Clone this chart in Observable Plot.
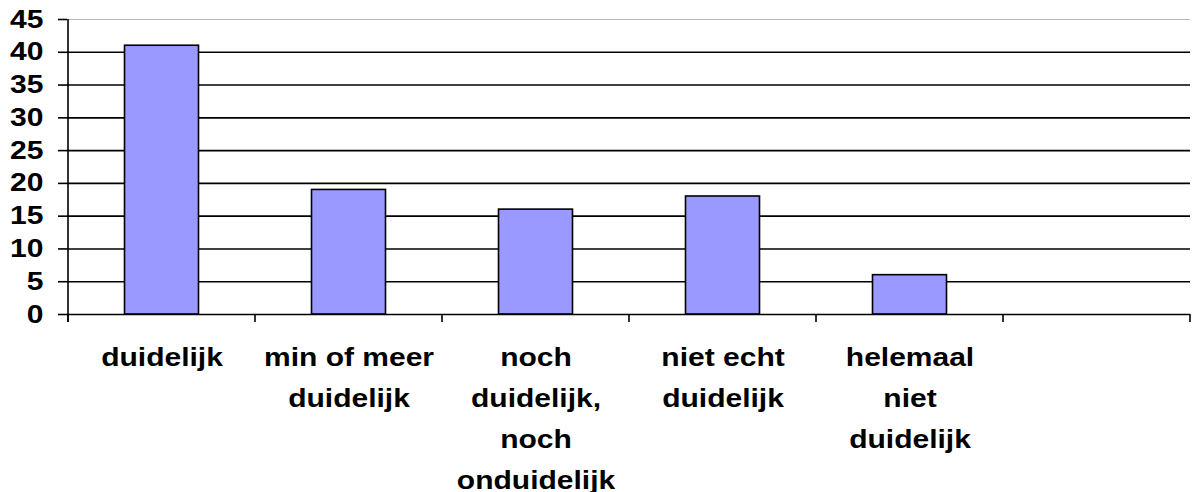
<!DOCTYPE html>
<html>
<head>
<meta charset="utf-8">
<script src="https://cdn.jsdelivr.net/npm/d3@7"></script>
<script src="https://cdn.jsdelivr.net/npm/@observablehq/plot@0.6"></script>
<style>
  html, body { margin: 0; padding: 0; background: #ffffff; }
</style>
</head>
<body>
<div id="chart"></div>
<script>
// Answer categories (the last slot is an empty placeholder band)
const categories = [
  "duidelijk",
  "min of meer duidelijk",
  "noch duidelijk, noch onduidelijk",
  "niet echt duidelijk",
  "helemaal niet duidelijk",
  "(leeg)"
];

// Displayed axis labels, wrapped over several lines
const tickLabels = [
  "duidelijk",
  "min of meer\nduidelijk",
  "noch\nduidelijk,\nnoch\nonduidelijk",
  "niet echt\nduidelijk",
  "helemaal\nniet\nduidelijk",
  ""
];

// Number of responses per category
const counts = [41, 19, 16, 18, 6, null];

// Value axis ticks
const yTicks = [0, 5, 10, 15, 20, 25, 30, 35, 40, 45];

const rows = categories.map((c, i) => ({category: c, count: counts[i]}))
  .filter(d => d.count != null);
const labelOf = new Map(categories.map((c, i) => [c, tickLabels[i]]));

// Vertical axis line plus tick marks on the band boundaries of the x axis
function frameMarks(index, scales) {
  const {x, y} = scales;
  const bw = typeof x.bandwidth === "function" ? x.bandwidth() : x.bandwidth;
  const edges = categories.map(c => x(c));
  edges.push(x(categories[categories.length - 1]) + bw);
  const y0 = y(0), yTop = y(45);
  const g = d3.create("svg:g").attr("stroke", "#000").attr("stroke-width", 1.6);
  g.append("line")
    .attr("x1", edges[0]).attr("x2", edges[0])
    .attr("y1", yTop).attr("y2", y0 + 8);
  g.selectAll("line.edge").data(edges).join("line")
    .attr("class", "edge")
    .attr("x1", d => d).attr("x2", d => d)
    .attr("y1", y0).attr("y2", y0 + 8);
  return g.node();
}

const chart = Plot.plot({
  width: 1194,
  height: 492,
  marginLeft: 67,
  marginRight: 4,
  marginTop: 19,
  marginBottom: 178,
  style: {
    fontFamily: "'Liberation Sans', Arial, sans-serif",
    fontWeight: "bold",
    fontSize: "25px",
    color: "#000",
    background: "#fff",
    overflow: "visible"
  },
  x: {type: "band", domain: categories, padding: 0},
  y: {domain: [0, 45]},
  marks: [
    Plot.ruleY(yTicks.filter(t => t > 0 && t < 45), {stroke: "#000", strokeWidth: 1.6}),
    Plot.ruleY([45], {stroke: "#b8b8b8", strokeWidth: 1}),
    Plot.barY(rows, {
      x: "category",
      y: "count",
      fill: "#9999ff",
      stroke: "#000",
      strokeWidth: 1.6,
      insetLeft: 56.5,
      insetRight: 56.5
    }),
    Plot.ruleY([0], {stroke: "#000", strokeWidth: 1.6}),
    Plot.axisY({
      ticks: yTicks,
      tickSize: 9,
      tickPadding: 15,
      strokeWidth: 1.6,
      label: null,
      fontSize: 25,
      fontWeight: "bold"
    }),
    Plot.axisX({
      tickSize: 0,
      tickPadding: 22,
      lineHeight: 1.64,
      label: null,
      fontSize: 25,
      fontWeight: "bold",
      tickFormat: d => labelOf.get(d)
    }),
    frameMarks
  ]
});

document.getElementById("chart").append(chart);

// Widen the lettering a little: the labels use a horizontally stretched face
d3.select(chart).selectAll("text").each(function () {
  const spans = this.querySelectorAll("tspan");
  const targets = spans.length ? Array.from(spans) : [this];
  for (const t of targets) {
    const len = t.getComputedTextLength();
    if (len > 0) {
      t.setAttribute("textLength", (len * 1.2).toFixed(1));
      t.setAttribute("lengthAdjust", "spacingAndGlyphs");
    }
  }
});
</script>
</body>
</html>
